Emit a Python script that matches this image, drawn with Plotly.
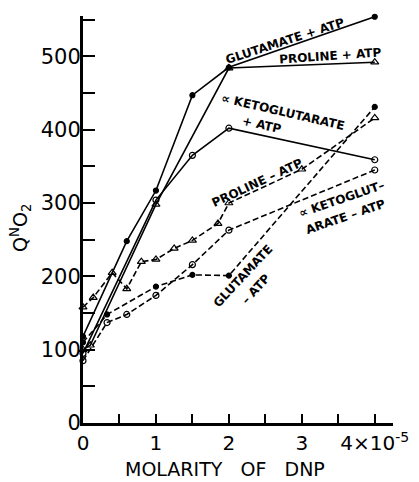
import plotly.graph_objects as go

# ---- data (x in units of 1e-5 M DNP, y = QO2 N) ----
glu_atp_x = [0, 0.6, 1.0, 1.5, 2.0, 4.0]
glu_atp_y = [118, 248, 317, 447, 485, 554]

pro_atp_x = [0, 0.1, 1.0, 2.0, 4.0]
pro_atp_y = [100, 106, 298, 484, 492]

akg_atp_x = [0, 1.0, 1.5, 2.0, 4.0]
akg_atp_y = [95, 304, 365, 402, 359]

pro_noatp_x = [0, 0.14, 0.4, 0.6, 0.8, 1.0, 1.25, 1.5, 1.85, 2.0, 3.0, 4.0]
pro_noatp_y = [158, 171, 205, 183, 220, 223, 238, 249, 272, 300, 346, 416]

glu_noatp_x = [0, 0.33, 1.0, 1.5, 2.0, 4.0]
glu_noatp_y = [110, 148, 186, 202, 201, 431]

akg_noatp_x = [0, 0.33, 0.6, 1.0, 1.5, 2.0, 4.0]
akg_noatp_y = [85, 137, 148, 174, 216, 263, 345]

x_tick_vals = [0, 1, 2, 3, 4]
x_tick_text = ["0", "1", "2", "3", "4×10<sup>-5</sup>"]
y_tick_vals = [0, 100, 200, 300, 400, 500]

FONT = "DejaVu Sans"

fig = go.Figure()

def add(x, y, dash, symbol, size):
    fig.add_trace(go.Scatter(
        x=x, y=y, mode="lines+markers",
        line=dict(color="black", width=1.6, dash=dash),
        marker=dict(symbol=symbol, size=size, color="black",
                    line=dict(color="black", width=1.2)),
        showlegend=False, cliponaxis=False))

add(glu_atp_x, glu_atp_y, "solid", "circle", 5)
add(pro_atp_x, pro_atp_y, "solid", "triangle-up-open", 7)
add(akg_atp_x, akg_atp_y, "solid", "circle-open", 6)
add(pro_noatp_x, pro_noatp_y, "6px,3px", "triangle-up-open", 7)
add(glu_noatp_x, glu_noatp_y, "6px,3px", "circle", 5)
add(akg_noatp_x, akg_noatp_y, "6px,3px", "circle-open", 6)

lab_font = dict(family=FONT, size=12, color="black", weight="bold")

def lab(text, x, y, angle):
    fig.add_annotation(text=text, xref="paper", yref="paper",
                       x=x, y=y, showarrow=False, textangle=angle,
                       font=lab_font, xanchor="center", yanchor="middle")

# paper coordinates helper: plot area x 83..393, y 16..423 (pixels)
def px(xp):
    return (xp - 83) / (393 - 83)

def py(yp):
    return (423 - yp) / (423 - 16)

lab("GLUTAMATE + ATP", px(285), py(41), -18)
lab("PROLINE + ATP", px(330), py(56), -4)
lab("∝ KETOGLUTARATE", px(283), py(112), 13)
lab("+ ATP", px(262), py(125), 13)
lab("PROLINE – ATP", px(257), py(183), -25)
lab("∝ KETOGLUT–", px(342), py(199), -19)
lab("ARATE – ATP", px(345), py(217), -19)
lab("GLUTAMATE", px(243), py(276), -47)
lab("– ATP", px(256), py(289), -47)

fig.add_annotation(text="MOLARITY   OF   DNP", xref="paper", yref="paper",
                   x=px(225), y=py(469), showarrow=False,
                   font=dict(family=FONT, size=19, color="black"),
                   xanchor="center", yanchor="middle")
fig.add_annotation(text="Q<sup>N</sup>O<sub>2</sub>", xref="paper", yref="paper",
                   x=px(20), y=py(228), showarrow=False, textangle=-90,
                   font=dict(family=FONT, size=19, color="black"),
                   xanchor="center", yanchor="middle")

fig.update_xaxes(range=[0, 4.25], showline=True, linecolor="black", linewidth=3,
                 showgrid=False, zeroline=False, automargin=False,
                 tickmode="array", tickvals=x_tick_vals, ticktext=x_tick_text,
                 ticks="inside", ticklen=9, tickwidth=1.5, tickcolor="black",
                 minor=dict(dtick=0.5, ticks="inside", ticklen=9, tickwidth=1.5, tickcolor="black"),
                 tickfont=dict(family=FONT, size=20, color="black"))
fig.update_yaxes(range=[0, 555], showline=True, linecolor="black", linewidth=3,
                 showgrid=False, zeroline=False, automargin=False,
                 tickmode="array", tickvals=y_tick_vals,
                 ticks="inside", ticklen=12, tickwidth=1.5, tickcolor="black",
                 ticklabelstandoff=-5,
                 minor=dict(dtick=50, ticks="inside", ticklen=12, tickwidth=1.5, tickcolor="black"),
                 tickfont=dict(family=FONT, size=21, color="black"))

fig.update_layout(width=419, height=482,
                  margin=dict(l=83, r=26, t=16, b=59),
                  plot_bgcolor="white", paper_bgcolor="white")

fig.write_html("out.html", config={"displayModeBar": False},
               post_script="document.body.style.margin='0';document.body.style.overflow='hidden';")
